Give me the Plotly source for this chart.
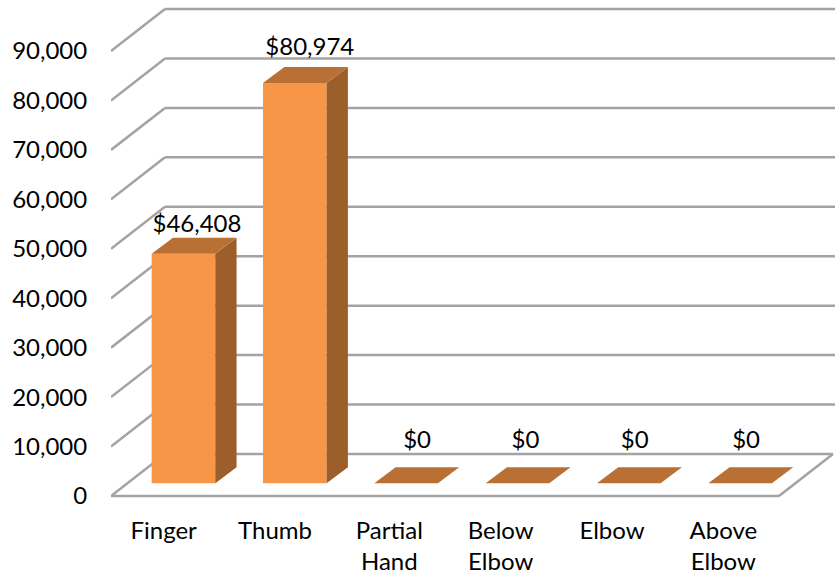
import plotly.graph_objects as go

categories = ["Finger", "Thumb", "Partial<br>Hand", "Below<br>Elbow", "Elbow", "Above<br>Elbow"]
values = [46408, 80974, 0, 0, 0, 0]
y_ticks = [0, 10000, 20000, 30000, 40000, 50000, 60000, 70000, 80000, 90000]
y_tick_labels = ["0", "10,000", "20,000", "30,000", "40,000", "50,000", "60,000", "70,000", "80,000", "90,000"]

# chart geometry (pixels)
W, H = 835, 576
PX_LEFT, PX_BASE, PX_BOTTOM = 111.0, 496.0, 500.0
PX_PER_CAT, PX_PER_10K = 111.33, 49.44
WALL_DX, WALL_DY = 54.0, 42.0
BAR_DX, BAR_DY = 16.8, 12.7
BAR_W = 63.6
SLAB_DX, SLAB_DY = 21.3, 16.0
LABEL_DX = [13.5, 15, 11, 8, 6, 6]
LABEL_GAP = [11.5, 18, 25, 25, 25, 25]
CAT_LABEL_DX = [-3, -3, 0, 0, 0, 0]

def cx(p):
    return p / PX_PER_CAT

def vy(p):
    return p / PX_PER_10K * 10000

FRONT = "#F79646"
SIDE = "#9C5F2B"
TOP = "#B97034"
GRID = "#A3A3A3"
FONT = dict(family="Lato, Carlito, sans-serif", size=24, color="#000000")

x_pos = list(range(len(categories)))
x0 = -0.5
x_end = x0 + 6
wall_x, wall_y = cx(WALL_DX), vy(WALL_DY)
bar_off, bar_base = cx(BAR_DX), vy(BAR_DY)
bar_w = cx(BAR_W)
sdx, sdy = cx(SLAB_DX), vy(SLAB_DY)
x_max = x0 + cx(835 - PX_LEFT)

line = dict(color=GRID, width=2.5)
shapes = []
def seg(xa, ya, xb, yb):
    shapes.append(dict(type="line", xref="x", yref="y", x0=xa, y0=ya, x1=xb, y1=yb, line=line, layer="below"))

for t in y_ticks:
    seg(x0, t, x0 + wall_x, t + wall_y)
    seg(x0 + wall_x, t + wall_y, x_max + 1, t + wall_y) if t else seg(x0 + wall_x, wall_y, x_end + wall_x, wall_y)
seg(x0, 0, x_end, 0)
seg(x_end, 0, x_end + wall_x, wall_y)

fig = go.Figure()
fig.add_trace(go.Bar(
    x=[x + bar_off for x in x_pos], y=values, base=[bar_base] * len(values),
    width=bar_w, marker=dict(color=FRONT, line=dict(width=0)), showlegend=False, hoverinfo="skip",
))

for x, v in zip(x_pos, values):
    l = x + bar_off - bar_w / 2
    r = l + bar_w
    yt = bar_base + v
    if v > 0:
        fig.add_trace(go.Scatter(
            x=[r, r + sdx, r + sdx, r, r], y=[bar_base, bar_base + sdy, yt + sdy, yt, bar_base],
            mode="lines", line=dict(width=0), fill="toself", fillcolor=SIDE,
            showlegend=False, hoverinfo="skip"))
    fig.add_trace(go.Scatter(
        x=[l, r, r + sdx, l + sdx, l], y=[yt, yt, yt + sdy, yt + sdy, yt],
        mode="lines", line=dict(width=0), fill="toself", fillcolor=TOP,
        showlegend=False, hoverinfo="skip"))

fig.add_trace(go.Scatter(
    x=[x + bar_off + cx(d) for x, d in zip(x_pos, LABEL_DX)],
    y=[bar_base + v + sdy + vy(g) for v, g in zip(values, LABEL_GAP)],
    text=["${:,}".format(v) for v in values],
    mode="text", textposition="middle center", textfont=FONT,
    showlegend=False, hoverinfo="skip", cliponaxis=False))

fig.update_layout(
    width=W, height=H, autosize=False, showlegend=False,
    margin=dict(l=PX_LEFT, r=0, t=0, b=H - PX_BOTTOM, pad=0, autoexpand=False),
    paper_bgcolor="#FFFFFF", plot_bgcolor="#FFFFFF", font=FONT, shapes=shapes,
    xaxis=dict(range=[x0, x_max], tickmode="array", automargin=False,
               tickvals=[x + cx(d) for x, d in zip(x_pos, CAT_LABEL_DX)], ticktext=categories,
               showgrid=False, zeroline=False, showline=False, ticks="outside", ticklen=9,
               tickcolor="rgba(0,0,0,0)", tickangle=0, tickfont=FONT, fixedrange=True),
    yaxis=dict(range=[-vy(PX_BOTTOM - PX_BASE), vy(PX_BASE)], tickmode="array", tickvals=y_ticks,
               ticktext=y_tick_labels, showgrid=False, zeroline=False, showline=False, automargin=False,
               ticks="outside", ticklen=18, tickcolor="rgba(0,0,0,0)", tickfont=FONT, fixedrange=True),
)
fig.write_html("out.html", config=dict(displayModeBar=False),
               post_script="document.body.style.margin='0';document.body.style.overflow='hidden';")
